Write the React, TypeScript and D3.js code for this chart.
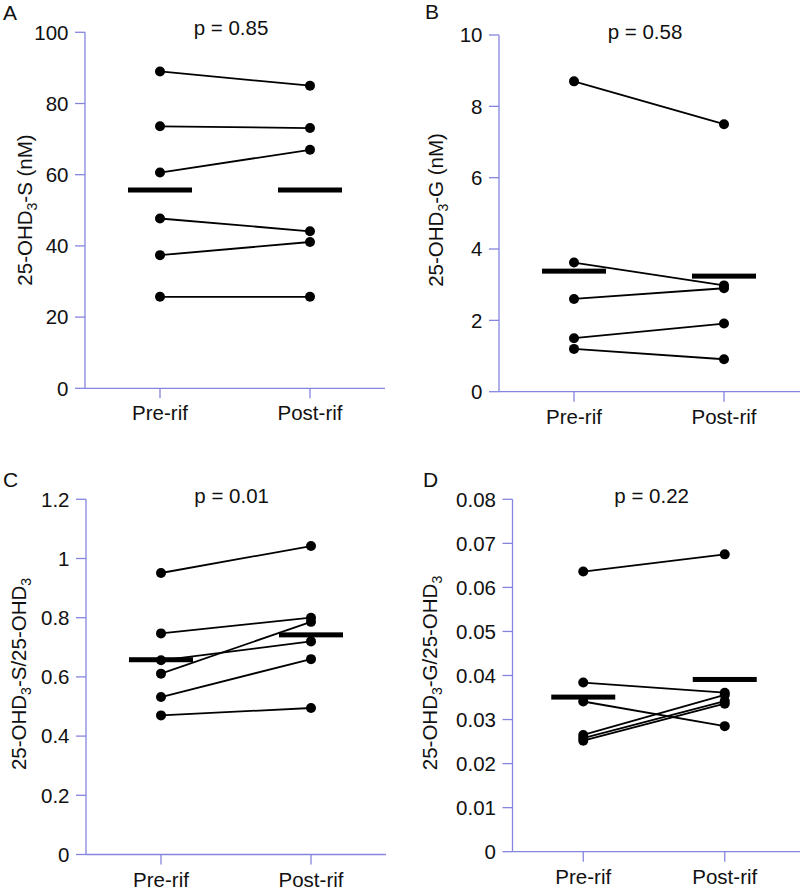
import React from "react";
import * as d3 from "d3";

const groups = ["Pre-rif", "Post-rif"];

// Panel A: 25-OHD3-S (nM)
const aPre = [89.0, 73.6, 60.6, 47.7, 37.4, 25.7];
const aPost = [85.0, 73.1, 67.0, 44.1, 41.1, 25.7];
const aMeans = [55.7, 55.7];
const aTicks = [0, 20, 40, 60, 80, 100];

// Panel B: 25-OHD3-G (nM)
const bPre = [8.7, 3.62, 2.6, 1.5, 1.2];
const bPost = [7.5, 2.98, 2.9, 1.91, 0.91];
const bMeans = [3.38, 3.24];
const bTicks = [0, 2, 4, 6, 8, 10];

// Panel C: 25-OHD3-S/25-OHD3
const cPre = [0.951, 0.747, 0.656, 0.611, 0.532, 0.47];
const cPost = [1.042, 0.8, 0.72, 0.786, 0.66, 0.495];
const cMeans = [0.658, 0.742];
const cTicks = [0, 0.2, 0.4, 0.6, 0.8, 1, 1.2];

// Panel D: 25-OHD3-G/25-OHD3
const dPre = [0.0636, 0.0384, 0.0341, 0.0265, 0.0258, 0.0252];
const dPost = [0.0675, 0.0361, 0.0285, 0.0356, 0.0342, 0.0336];
const dMeans = [0.0351, 0.0391];
const dTicks = [0, 0.01, 0.02, 0.03, 0.04, 0.05, 0.06, 0.07, 0.08];

const pValues = ["p = 0.85", "p = 0.58", "p = 0.01", "p = 0.22"];
const panelLetters = ["A", "B", "C", "D"];
const yLabels: { t: string; sub?: boolean }[][] = [
  [{ t: "25-OHD" }, { t: "3", sub: true }, { t: "-S (nM)" }],
  [{ t: "25-OHD" }, { t: "3", sub: true }, { t: "-G (nM)" }],
  [{ t: "25-OHD" }, { t: "3", sub: true }, { t: "-S/25-OHD" }, { t: "3", sub: true }],
  [{ t: "25-OHD" }, { t: "3", sub: true }, { t: "-G/25-OHD" }, { t: "3", sub: true }],
];

const FONT = "'Liberation Sans', Arial, Helvetica, sans-serif";
const AXIS = "#8585e0";

type Layout = {
  left: number; top: number; bottom: number; xEnd: number; axisEnd: number;
  letter: [number, number]; p: [number, number]; yl: [number, number];
};

const layouts: Layout[] = [
  { left: 85, top: 32.3, bottom: 388.3, xEnd: 385, axisEnd: 385, letter: [3, 20], p: [231, 35], yl: [32, 210] },
  { left: 499, top: 35, bottom: 391.7, xEnd: 799, axisEnd: 800, letter: [425, 19], p: [645, 39], yl: [443, 210] },
  { left: 86, top: 499.3, bottom: 854.5, xEnd: 386, axisEnd: 386, letter: [3, 487], p: [231.7, 503], yl: [26, 674] },
  { left: 512.5, top: 499.3, bottom: 851.7, xEnd: 795.5, axisEnd: 800, letter: [423, 487], p: [651.7, 503], yl: [437, 673] },
];

const panelData = [
  { pre: aPre, post: aPost, means: aMeans, ticks: aTicks },
  { pre: bPre, post: bPost, means: bMeans, ticks: bTicks },
  { pre: cPre, post: cPost, means: cMeans, ticks: cTicks },
  { pre: dPre, post: dPost, means: dMeans, ticks: dTicks },
];

function Panel({ i }: { i: number }) {
  const L = layouts[i];
  const D = panelData[i];
  const yMax = D.ticks[D.ticks.length - 1];
  const y = d3.scaleLinear().domain([0, yMax]).range([L.bottom, L.top]);
  const x = d3.scalePoint<string>().domain(groups).range([L.left, L.xEnd]).padding(0.5);
  const xPre = x("Pre-rif")!;
  const xPost = x("Post-rif")!;
  const line = d3.line<[number, number]>().x((d) => d[0]).y((d) => d[1]);
  const barW = 64;
  return (
    <g>
      <line x1={L.left} x2={L.left} y1={L.top} y2={L.bottom} stroke={AXIS} strokeWidth={1.3} />
      <line x1={L.left} x2={L.axisEnd} y1={L.bottom} y2={L.bottom} stroke={AXIS} strokeWidth={1.3} />
      {D.ticks.map((t) => (
        <g key={t}>
          <line x1={L.left - 10} x2={L.left} y1={y(t)} y2={y(t)} stroke={AXIS} strokeWidth={1.3} />
          <text x={L.left - 16.5} y={y(t)} dy="0.36em" textAnchor="end" fontSize={20.5} fill="#111">
            {String(t)}
          </text>
        </g>
      ))}
      {groups.map((g) => (
        <g key={g}>
          <line x1={x(g)!} x2={x(g)!} y1={L.bottom} y2={L.bottom + 10} stroke={AXIS} strokeWidth={1.3} />
          <text x={x(g)!} y={L.bottom + 32} textAnchor="middle" fontSize={20.5} fill="#111">
            {g}
          </text>
        </g>
      ))}
      <text
        transform={`translate(${L.yl[0]},${L.yl[1]}) rotate(-90)`}
        textAnchor="middle"
        fontSize={20.5}
        fill="#111"
      >
        {yLabels[i].map((part, k) =>
          part.sub ? (
            <tspan key={k} fontSize={14} dy={5}>
              {part.t}
            </tspan>
          ) : (
            <tspan key={k} dy={k === 0 ? 0 : yLabels[i][k - 1].sub ? -5 : 0}>
              {part.t}
            </tspan>
          )
        )}
      </text>
      <text x={L.letter[0]} y={L.letter[1]} fontSize={21} fill="#111">
        {panelLetters[i]}
      </text>
      <text x={L.p[0]} y={L.p[1]} textAnchor="middle" fontSize={20.5} fill="#111">
        {pValues[i]}
      </text>
      {D.pre.map((v, k) => (
        <path
          key={"l" + k}
          d={line([[xPre, y(v)], [xPost, y(D.post[k])]]) || ""}
          stroke="#000"
          strokeWidth={1.8}
          fill="none"
        />
      ))}
      {D.pre.map((v, k) => (
        <circle key={"a" + k} cx={xPre} cy={y(v)} r={5} fill="#000" />
      ))}
      {D.post.map((v, k) => (
        <circle key={"b" + k} cx={xPost} cy={y(v)} r={5} fill="#000" />
      ))}
      {groups.map((g, k) => (
        <rect key={"m" + k} x={x(g)! - barW / 2} y={y(D.means[k]) - 2.5} width={barW} height={5} fill="#000" />
      ))}
    </g>
  );
}

export default function App() {
  return (
    <svg
      width={800}
      height={889}
      style={{ position: "absolute", left: 0, top: 0, background: "#fff" }}
      fontFamily={FONT}
    >
      <rect width={800} height={889} fill="#fff" />
      {[0, 1, 2, 3].map((i) => (
        <Panel key={i} i={i} />
      ))}
    </svg>
  );
}
